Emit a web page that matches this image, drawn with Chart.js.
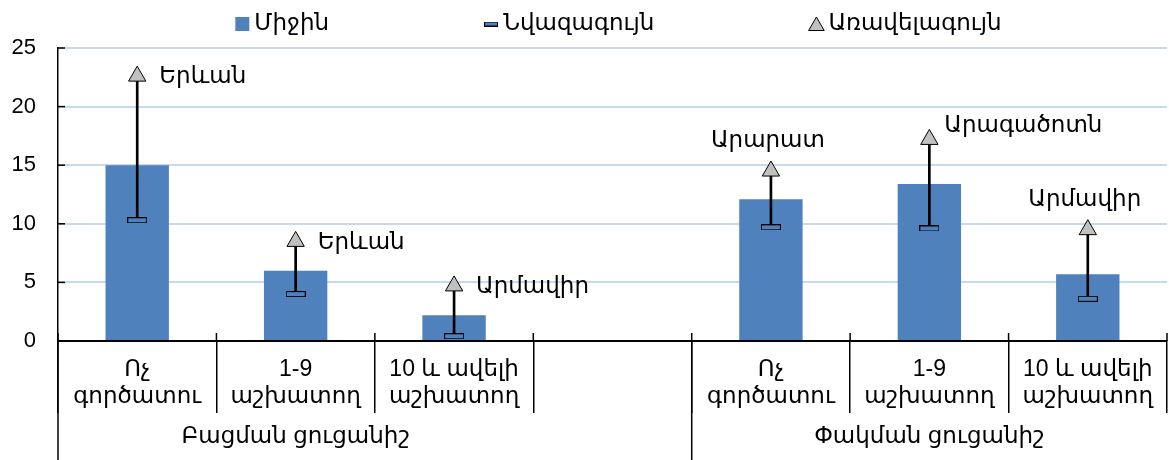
<!DOCTYPE html>
<html>
<head>
<meta charset="utf-8">
<script src="https://cdn.jsdelivr.net/npm/chart.js@4.4.1/dist/chart.umd.min.js"></script>
<style>
  html, body { margin: 0; padding: 0; background: #fff; }
  #wrap { width: 1169px; height: 460px; position: relative; }
</style>
</head>
<body>
<div id="wrap"><canvas id="chart"></canvas></div>
<script>
// data
const categories = [['Ոչ', 'գործատու'], ['1-9', 'աշխատող'], ['10 և ավելի', 'աշխատող'], '',
                    ['Ոչ', 'գործատու'], ['1-9', 'աշխատող'], ['10 և ավելի', 'աշխատող']];
const groups = ['Բացման ցուցանիշ', 'Փակման ցուցանիշ'];
const groupStart = [0, 4];
const groupSize = 3;
const seriesNames = ['Միջին', 'Նվազագույն', 'Առավելագույն'];
const meanValues = [15.0, 6.0, 2.2, null, 12.1, 13.4, 5.7];
const minValues = [10.3, 4.0, 0.4, null, 9.7, 9.6, 3.6];
const maxValues = [22.6, 8.5, 4.7, null, 14.5, 17.2, 9.5];
const maxRegions = ['Երևան', 'Երևան', 'Արմավիր', null, 'Արարատ', 'Արագածոտն', 'Արմավիր'];
const regionPlacement = ['right', 'right', 'right', null, 'top', 'topright', 'top'];
const yTicks = [0, 5, 10, 15, 20, 25];

const BLUE = '#4f81bd';
const FONT = "'Liberation Sans', 'DejaVu Sans', sans-serif";
const FS = 23;

// small bordered dash used for the minimum
function dash(w, h) {
  const c = document.createElement('canvas');
  c.width = w; c.height = h;
  const g = c.getContext('2d');
  g.fillStyle = BLUE;
  g.fillRect(0, 0, w, h);
  g.strokeStyle = '#000';
  g.lineWidth = 1;
  g.strokeRect(0.5, 0.5, w - 1, h - 1);
  return c;
}
const minMark = dash(20, 6);

function tri(ctx, cx, cy, r) {
  ctx.beginPath();
  ctx.moveTo(cx, cy - r);
  ctx.lineTo(cx + r * 0.866, cy + r / 2);
  ctx.lineTo(cx - r * 0.866, cy + r / 2);
  ctx.closePath();
  ctx.fillStyle = '#c0c0c0';
  ctx.fill();
  ctx.strokeStyle = '#000';
  ctx.lineWidth = 1;
  ctx.stroke();
}

const decor = {
  id: 'decor',
  afterDraw(chart) {
    const { ctx, chartArea, scales: { x, y } } = chart;
    const half = (x.getPixelForValue(1) - x.getPixelForValue(0)) / 2;
    const ln = (x1, y1, x2, y2) => { ctx.beginPath(); ctx.moveTo(x1, y1); ctx.lineTo(x2, y2); ctx.stroke(); };
    ctx.save();
    ctx.strokeStyle = '#000';
    ctx.lineWidth = 1.5;
    // category ticks crossing the axis
    for (let i = 0; i <= categories.length; i++) {
      const px = x.getPixelForValue(0) - half + i * 2 * half;
      ln(px, chartArea.bottom - 8, px, chartArea.bottom);
    }
    // group separators down to the bottom
    groupStart.forEach(s => {
      const px = x.getPixelForValue(s) - half;
      ln(px, chartArea.bottom, px, chart.height);
    });
    // inner y ticks
    y.ticks.forEach(t => {
      const py = y.getPixelForValue(t.value);
      ln(chartArea.left, py, chartArea.left + 7, py);
    });

    ctx.fillStyle = '#000';
    ctx.font = FS + 'px ' + FONT;
    ctx.textBaseline = 'middle';
    // group labels
    ctx.textAlign = 'center';
    groups.forEach((g, i) => {
      const c = (x.getPixelForValue(groupStart[i]) + x.getPixelForValue(groupStart[i] + groupSize - 1)) / 2;
      ctx.fillText(g, c, chartArea.bottom + 96);
    });

    // region names next to the maximum
    const meta = chart.getDatasetMeta(3);
    meta.data.forEach((pt, i) => {
      const name = maxRegions[i];
      if (!name || pt.skip) return;
      const p = regionPlacement[i];
      if (p === 'right') {
        ctx.textAlign = 'left';
        ctx.fillText(name, pt.x + 22, pt.y + 1);
      } else if (p === 'top') {
        ctx.textAlign = 'center';
        ctx.fillText(name, pt.x - 3, pt.y - 30);
      } else {
        ctx.textAlign = 'left';
        ctx.fillText(name, pt.x + 15, pt.y - 14);
      }
    });

    // legend
    const gap = 155, mw = 14, tg = 5;
    const widths = seriesNames.map(n => mw + tg + ctx.measureText(n).width);
    const total = widths.reduce((a, b) => a + b, 0) + gap * (seriesNames.length - 1);
    let lx = (chartArea.left + chartArea.right) / 2 + 6 - total / 2;
    const ly = 24;
    seriesNames.forEach((n, i) => {
      if (i === 0) {
        ctx.fillStyle = BLUE;
        ctx.fillRect(lx, ly - 7, 14, 14);
      } else if (i === 1) {
        ctx.drawImage(dash(14, 5), lx, ly - 2.5);
      } else {
        tri(ctx, lx + 7, ly + 2, 9);
      }
      ctx.fillStyle = '#000';
      ctx.textAlign = 'left';
      ctx.fillText(n, lx + mw + tg, ly);
      lx += widths[i] + gap;
    });
    ctx.restore();
  }
};

new Chart(document.getElementById('chart'), {
  type: 'bar',
  data: {
    labels: categories,
    datasets: [
      {
        label: seriesNames[0],
        data: meanValues,
        backgroundColor: BLUE,
        grouped: false,
        barPercentage: 0.4,
        categoryPercentage: 1,
        order: 4
      },
      {
        label: 'range',
        data: minValues.map((v, i) => v == null ? null : [v, maxValues[i]]),
        backgroundColor: '#000',
        grouped: false,
        barThickness: 2,
        order: 3
      },
      {
        type: 'line',
        label: seriesNames[1],
        data: minValues,
        showLine: false,
        pointStyle: minMark,
        order: 2
      },
      {
        type: 'line',
        label: seriesNames[2],
        data: maxValues,
        showLine: false,
        pointStyle: 'triangle',
        pointRadius: 10,
        pointBackgroundColor: '#c0c0c0',
        pointBorderColor: '#000',
        pointBorderWidth: 1,
        order: 1
      }
    ]
  },
  options: {
    responsive: true,
    maintainAspectRatio: false,
    animation: false,
    layout: { autoPadding: false, padding: { top: 48, right: 2, left: 0, bottom: 0 } },
    plugins: {
      legend: { display: false },
      tooltip: { enabled: false }
    },
    scales: {
      x: {
        grid: {
          offset: true,
          drawOnChartArea: false,
          tickLength: 72,
          color: '#000',
          lineWidth: 1.5
        },
        border: { color: '#000', width: 2 },
        ticks: {
          color: '#000',
          font: { family: FONT, size: FS, lineHeight: 1.17 },
          padding: -57,
          autoSkip: false,
          maxRotation: 0
        },
        afterFit(s) { s.height = 119; }
      },
      y: {
        min: yTicks[0],
        max: yTicks[yTicks.length - 1],
        ticks: {
          stepSize: yTicks[1] - yTicks[0],
          color: '#000',
          font: { family: FONT, size: 22 },
          padding: 22
        },
        grid: { color: '#c6d9f1', lineWidth: 2, drawTicks: false },
        border: { color: '#000', width: 1.5 },
        afterFit(s) { s.width = 58; }
      }
    }
  },
  plugins: [decor]
});
</script>
</body>
</html>
